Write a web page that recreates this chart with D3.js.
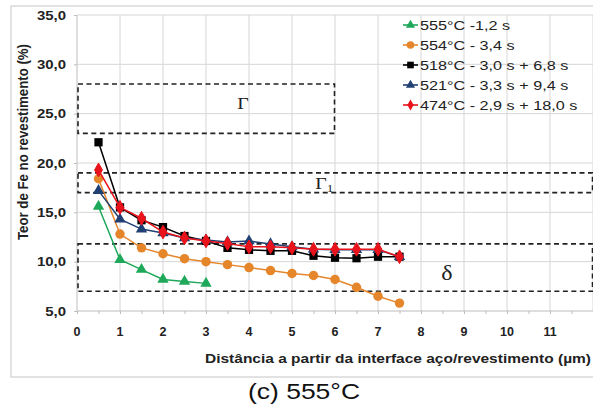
<!DOCTYPE html>
<html><head><meta charset="utf-8">
<script src="https://cdn.jsdelivr.net/npm/d3@7"></script>
<style>body{margin:0;background:#fff}svg{display:block}</style>
</head><body>
<svg id="c" width="593" height="410"></svg>
<script>
const xHalf = [0.5,1,1.5,2,2.5,3,3.5,4,4.5,5,5.5,6,6.5,7,7.5];
const seriesNames = ["555°C -1,2 s","554°C - 3,4 s","518°C - 3,0 s + 6,8 s","521°C - 3,3 s + 9,4 s","474°C - 2,9 s + 18,0 s"];
const seriesColors = ["#1ea85a","#e5862b","#000000","#203f72","#e8131b"];
const s555 = [15.6,10.2,9.2,8.2,8.0,7.8];
const s554 = [18.4,12.8,11.4,10.8,10.3,10.0,9.7,9.4,9.1,8.8,8.6,8.2,7.4,6.5,5.8];
const s518 = [22.1,15.5,14.2,13.5,12.6,12.1,11.4,11.2,11.1,11.1,10.6,10.4,10.35,10.5,10.5];
const s521 = [17.2,14.3,13.3,12.9,12.4,12.2,12.0,12.1,11.8,11.5,11.25,11.2,11.2,11.2,10.5];
const s474 = [19.3,15.5,14.4,13.0,12.4,12.1,11.85,11.5,11.5,11.4,11.25,11.25,11.25,11.25,10.5];
const xTicks = [0,1,2,3,4,5,6,7,8,9,10,11];
const yTicks = [5,10,15,20,25,30,35];
const phaseNames = ["Γ","Γ","δ"];
const phaseSub = ["","1",""];
const phaseLow = [23,17,7];
const phaseHigh = [28,19,11.8];
const phaseXEnd = [6,12,12];
const phaseLabelX = [3.86,5.75,8.6];
const phaseLabelY = [25.5,17.35,8.1];
const xTitle = "Distância a partir da interface aço/revestimento (µm)";
const yTitle = "Teor de Fe no revestimento (%)";
const caption = "(c) 555°C";

const seriesVals = [s555,s554,s518,s521,s474];
const symbols = [d3.symbolTriangle,d3.symbolCircle,d3.symbolSquare,d3.symbolTriangle,d3.symbolDiamond];
const symSize = [56,70,68,56,54];

const svg = d3.select("#c");
const x = d3.scaleLinear().domain([0,12]).range([77,593]);
const y = d3.scaleLinear().domain([5,35]).range([311,15]);
const fmt = v => d3.format(".1f")(v).replace(".",",");

// frame
svg.append("rect").attr("x",11).attr("y",6).attr("width",600).attr("height",371)
  .attr("fill","none").attr("stroke","#cfcfcf").attr("stroke-width",1.2);

// grid
const grid = svg.append("g");
grid.selectAll("line.v").data(xTicks.concat([12])).join("line")
  .attr("x1",d=>x(d)).attr("x2",d=>x(d)).attr("y1",y(35)).attr("y2",y(5))
  .attr("stroke",d=>d===0?"#bdbdbd":"#d6d6d6").attr("stroke-width",1);
grid.selectAll("line.h").data(yTicks).join("line")
  .attr("x1",x(0)).attr("x2",x(12)).attr("y1",d=>y(d)).attr("y2",d=>y(d))
  .attr("stroke",d=>d===5?"#bdbdbd":"#d6d6d6").attr("stroke-width",1);

// axes
const xAxis = d3.axisBottom(x).tickValues(d3.range(0,12.01,0.5)).tickSize(3).tickFormat("");
const gx = svg.append("g").attr("transform",`translate(0,${y(5)})`).call(xAxis);
gx.select(".domain").remove();
gx.selectAll(".tick line").attr("stroke","#bdbdbd");
const yAxis = d3.axisLeft(y).tickValues(yTicks).tickSize(3).tickFormat("");
const gy = svg.append("g").attr("transform",`translate(${x(0)},0)`).call(yAxis);
gy.select(".domain").remove();
gy.selectAll(".tick line").attr("stroke","#bdbdbd");

// tick labels
svg.append("g").selectAll("text").data(xTicks).join("text")
  .attr("x",d=>x(d)).attr("y",336).attr("text-anchor","middle")
  .attr("font-family","Liberation Sans, Arial, sans-serif").attr("font-weight","bold")
  .attr("font-size",12.5).attr("fill","#222").text(d=>d);
svg.append("g").selectAll("text").data(yTicks).join("text")
  .attr("transform",d=>`translate(66,${y(d)+4.5}) scale(1.15,1)`).attr("text-anchor","end")
  .attr("font-family","Liberation Sans, Arial, sans-serif").attr("font-weight","bold")
  .attr("font-size",13).attr("fill","#222").text(d=>fmt(d));

// titles
svg.append("text").attr("x",205).attr("y",363).attr("textLength",386).attr("lengthAdjust","spacingAndGlyphs")
  .attr("font-family","Liberation Sans, Arial, sans-serif").attr("font-weight","bold")
  .attr("font-size",13.5).attr("fill","#222").text(xTitle);
svg.append("text").attr("transform","translate(28,142) rotate(-90)").attr("text-anchor","middle")
  .attr("textLength",196).attr("lengthAdjust","spacingAndGlyphs")
  .attr("font-family","Liberation Sans, Arial, sans-serif").attr("font-weight","bold")
  .attr("font-size",14).attr("fill","#222").text(yTitle);
svg.append("text").attr("x",248).attr("y",399).attr("textLength",112).attr("lengthAdjust","spacingAndGlyphs")
  .attr("font-family","Liberation Sans, Arial, sans-serif")
  .attr("font-size",22).attr("fill","#111").text(caption);

// phase boxes
const boxes = svg.append("g");
phaseNames.forEach((n,i)=>{
  boxes.append("rect").attr("x",x(0)+1).attr("y",y(phaseHigh[i]))
    .attr("width",x(phaseXEnd[i])-x(0)-1.5).attr("height",y(phaseLow[i])-y(phaseHigh[i]))
    .attr("fill","none").attr("stroke","#222").attr("stroke-width",1.6).attr("stroke-dasharray","5,3.5");
  const t = boxes.append("text").attr("transform",`translate(${x(phaseLabelX[i])},${y(phaseLabelY[i])}) scale(1.2,1)`)
    .attr("text-anchor","middle").attr("font-family","Liberation Serif, Times New Roman, serif")
    .attr("font-size",i===2?20:16.5).attr("fill","#222").text(n);
  if(phaseSub[i]) t.append("tspan").attr("font-size",11).attr("dy",3).text(phaseSub[i]);
});

// series
const line = d3.line().x(d=>x(d[0])).y(d=>y(d[1]));
seriesVals.forEach((vals,i)=>{
  const pts = vals.map((v,j)=>[xHalf[j],v]);
  const g = svg.append("g");
  g.append("path").attr("d",line(pts)).attr("fill","none").attr("stroke",seriesColors[i]).attr("stroke-width",1.5);
  g.selectAll("path.m").data(pts).join("path").attr("class","m")
    .attr("transform",d=>`translate(${x(d[0])},${y(d[1])})`)
    .attr("d",d3.symbol().type(symbols[i]).size(symSize[i]))
    .attr("fill",seriesColors[i]).attr("stroke",i===4?"#e8131b":"none");
});

// legend
const leg = svg.append("g");
seriesNames.forEach((n,i)=>{
  const yy = 25 + i*20;
  leg.append("line").attr("x1",403).attr("x2",418).attr("y1",yy).attr("y2",yy)
    .attr("stroke",seriesColors[i]).attr("stroke-width",1.6);
  leg.append("path").attr("transform",`translate(410.5,${yy})`)
    .attr("d",d3.symbol().type(symbols[i]).size(symSize[i]*0.65)).attr("fill",seriesColors[i]);
  leg.append("text").attr("transform",`translate(420,${yy+5}) scale(1.2,1)`)
    .attr("font-family","Liberation Sans, Arial, sans-serif").attr("font-size",13.5)
    .attr("fill","#222").text(n);
});
</script>
</body></html>
